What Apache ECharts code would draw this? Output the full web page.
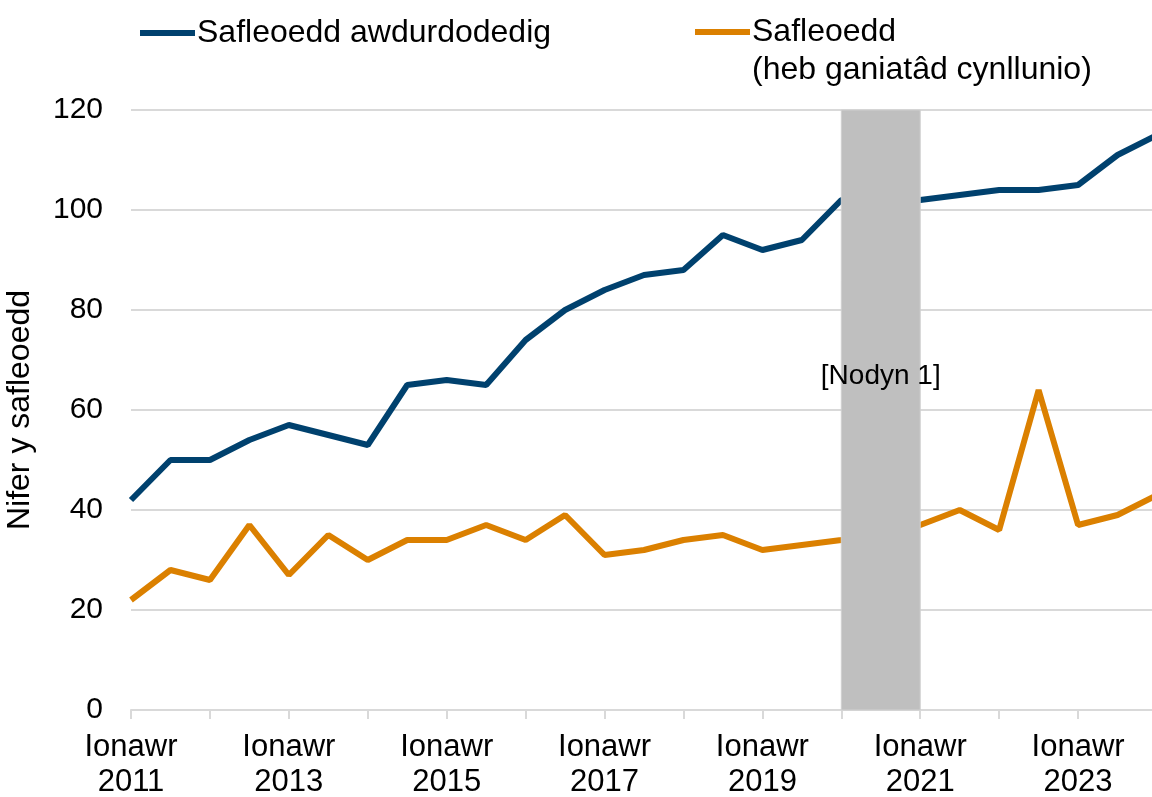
<!DOCTYPE html>
<html>
<head>
<meta charset="utf-8">
<script src="https://cdn.jsdelivr.net/npm/echarts@6/dist/echarts.min.js"></script>
<style>html,body{margin:0;padding:0;background:#fff;}#c{width:1152px;height:797px;}</style>
</head>
<body>
<div id="c"></div>
<script>
const categories = [
  'Ionawr 2011','Gorffennaf 2011','Ionawr 2012','Gorffennaf 2012','Ionawr 2013','Gorffennaf 2013',
  'Ionawr 2014','Gorffennaf 2014','Ionawr 2015','Gorffennaf 2015','Ionawr 2016','Gorffennaf 2016',
  'Ionawr 2017','Gorffennaf 2017','Ionawr 2018','Gorffennaf 2018','Ionawr 2019','Gorffennaf 2019',
  'Ionawr 2020','Gorffennaf 2020','Ionawr 2021','Gorffennaf 2021','Ionawr 2022','Gorffennaf 2022',
  'Ionawr 2023','Gorffennaf 2023','Ionawr 2024'
];
const authorisedSites = [42,50,50,54,57,55,53,65,66,65,74,80,84,87,88,95,92,94,102,null,102,103,104,104,105,111,115];
const unauthorisedSites = [22,28,26,37,27,35,30,34,34,37,34,39,31,32,34,35,32,33,34,null,37,40,36,64,37,39,43];
const yTicks = { min: 0, max: 120, interval: 20 };
const noteLabel = '[Nodyn 1]';
const noteRange = ['Ionawr 2020', 'Ionawr 2021'];
const seriesNames = ['Safleoedd awdurdodedig', 'Safleoedd\n(heb ganiatâd cynllunio)'];

const FONT = 'Liberation Sans, Arial, sans-serif';
const chart = echarts.init(document.getElementById('c'));
chart.setOption({
  animation: false,
  textStyle: { fontFamily: FONT, color: '#000' },
  legend: [
    {
      data: [seriesNames[0]], left: 135, top: 9, itemWidth: 55, itemHeight: 14, itemGap: 10,
      textStyle: { fontSize: 32, fontFamily: FONT, color: '#000', lineHeight: 38, padding: [0,0,0,-3] },
      icon: 'path://M0,0 L55,0 L55,6 L0,6 Z'
    },
    {
      data: [seriesNames[1]], left: 690, top: -30, itemWidth: 55, itemHeight: 14,
      formatter: name => '\n' + name,
      textStyle: { fontSize: 32, fontFamily: FONT, color: '#000', lineHeight: 38, padding: [0,0,0,-3] },
      icon: 'path://M0,0 L55,0 L55,6 L0,6 Z'
    }
  ],
  grid: { left: 131, right: -5, top: 110, bottom: 87, containLabel: false, outerBoundsMode: 'none' },
  xAxis: {
    type: 'category', data: categories, boundaryGap: false,
    axisLine: { lineStyle: { color: '#D9D9D9', width: 2 } },
    axisTick: { interval: 1, length: 9, lineStyle: { color: '#D9D9D9', width: 2 } },
    axisLabel: {
      interval: 3, margin: 20, fontSize: 31, lineHeight: 35, color: '#000', fontFamily: FONT,
      formatter: v => v.replace(' ', '\n')
    }
  },
  yAxis: {
    type: 'value', min: yTicks.min, max: yTicks.max, interval: yTicks.interval,
    name: 'Nifer y safleoedd', nameLocation: 'middle', nameGap: 95, nameRotate: 90,
    nameTextStyle: { fontSize: 32, color: '#000', fontFamily: FONT },
    axisLine: { show: false }, axisTick: { show: false },
    axisLabel: { fontSize: 30, margin: 28, color: '#000', fontFamily: FONT },
    splitLine: { lineStyle: { color: '#D9D9D9', width: 2 } }
  },
  series: [
    {
      name: seriesNames[0], type: 'line', data: authorisedSites, connectNulls: true,
      symbol: 'none', z: 3, clip: true,
      lineStyle: { color: '#00416E', width: 6 }, itemStyle: { color: '#00416E' }
    },
    {
      name: seriesNames[1], type: 'line', data: unauthorisedSites, connectNulls: true,
      symbol: 'none', z: 3, clip: true,
      lineStyle: { color: '#DB8000', width: 6 }, itemStyle: { color: '#DB8000' }
    },
    {
      name: 'note', type: 'line', data: [], symbol: 'none', clip: false, z: 10,
      markArea: {
        silent: true, z: 10,
        itemStyle: { color: '#BFBFBF', borderColor: '#D0D0D0', borderWidth: 1 },
        label: {
          show: true, position: ['50%', '44.4%'], align: 'center', verticalAlign: 'middle',
          fontSize: 28, color: '#000', fontFamily: FONT, formatter: noteLabel
        },
        data: [[{ xAxis: noteRange[0], yAxis: 0 }, { xAxis: noteRange[1], yAxis: 120.4 }]]
      }
    }
  ]
});
</script>
</body>
</html>
